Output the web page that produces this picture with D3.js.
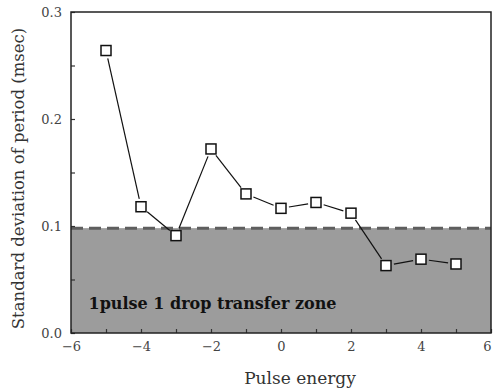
<!DOCTYPE html>
<html>
<head>
<meta charset="utf-8" />
<title>Standard deviation of period vs pulse energy</title>
<style>
html, body {
  margin: 0;
  background: #fff;
}
</style>
</head>
<body>
<script src="https://d3js.org/d3.v7.min.js"></script>
<script>
// data
const energy = [-5, -4, -3, -2, -1, 0, 1, 2, 3, 4, 5]
const stdDev = [0.264, 0.118, 0.091, 0.172, 0.130, 0.1165, 0.122, 0.112, 0.063, 0.069, 0.0645]
const zoneLimit = 0.098
const xTicks = [-6, -4, -2, 0, 2, 4, 6]
const yTicks = [0.0, 0.1, 0.2, 0.3]
const zoneLabel = '1pulse 1 drop transfer zone'

const serif = '"DejaVu Serif", "Liberation Serif", serif'
const w = 494, h = 391
const m = {left: 71, top: 12, right: 3, bottom: 58}

const svg = d3.select('body').append('svg')
  .attr('width', w)
  .attr('height', h)
  .attr('font-family', serif)

const x = d3.scaleLinear().domain([-6, 6]).range([m.left, w - m.right])
const y = d3.scaleLinear().domain([0, 0.3]).range([h - m.bottom, m.top])

// shaded zone
svg.append('rect')
  .attr('x', x(-6))
  .attr('y', y(zoneLimit))
  .attr('width', x(6) - x(-6))
  .attr('height', y(0) - y(zoneLimit))
  .attr('fill', '#9c9c9c')

svg.append('line')
  .attr('x1', x(-6)).attr('x2', x(6))
  .attr('y1', y(zoneLimit)).attr('y2', y(zoneLimit))
  .attr('stroke', '#5e5e5e')
  .attr('stroke-width', 3)
  .attr('stroke-dasharray', '12,6')

svg.append('text')
  .attr('x', x(-5.5))
  .attr('y', y(0.022))
  .attr('font-family', serif)
  .attr('font-size', 16)
  .attr('font-weight', 'bold')
  .attr('fill', '#111')
  .text(zoneLabel)

// axes, ticks inside
const xAxis = d3.axisBottom(x).tickValues(d3.range(-6, 7, 1)).tickSize(-4).tickPadding(9)
  .tickFormat(d => xTicks.includes(d) ? d3.format('')(d).replace('-', '\u2212') : '')
const yAxis = d3.axisLeft(y).tickValues(d3.range(0, 0.31, 0.05)).tickSize(-4).tickPadding(9)
  .tickFormat(d => yTicks.some(t => Math.abs(t - d) < 1e-9) ? d3.format('.1f')(d) : '')

const gx = svg.append('g').attr('transform', `translate(0,${y(0)})`).call(xAxis)
const gy = svg.append('g').attr('transform', `translate(${x(-6)},0)`).call(yAxis)
;[gx, gy].forEach(g => {
  g.attr('font-family', serif)
  g.select('.domain').remove()
  g.selectAll('line').attr('stroke', '#333').attr('stroke-width', 1.2)
  g.selectAll('text').attr('font-size', 13).attr('fill', '#444')
})
// keep the last x label inside the frame edge
gx.selectAll('.tick').filter(d => d === 6).select('text')
  .attr('text-anchor', 'end').attr('dx', 0)

// frame
svg.append('rect')
  .attr('x', x(-6)).attr('y', y(0.3))
  .attr('width', x(6) - x(-6)).attr('height', y(0) - y(0.3))
  .attr('fill', 'none')
  .attr('stroke', '#222')
  .attr('stroke-width', 1.5)

// connecting segments with a small gap at each marker
const pts = energy.map((e, i) => [x(e), y(stdDev[i])])
const gap = 8
for (let i = 0; i < pts.length - 1; i++) {
  const [x1, y1] = pts[i], [x2, y2] = pts[i + 1]
  const len = Math.hypot(x2 - x1, y2 - y1)
  const ux = (x2 - x1) / len, uy = (y2 - y1) / len
  svg.append('line')
    .attr('x1', x1 + ux * gap).attr('y1', y1 + uy * gap)
    .attr('x2', x2 - ux * gap).attr('y2', y2 - uy * gap)
    .attr('stroke', '#111')
    .attr('stroke-width', 1.2)
}

svg.selectAll('rect.mk')
  .data(pts)
  .enter().append('rect')
  .attr('class', 'mk')
  .attr('x', d => d[0] - 5)
  .attr('y', d => d[1] - 5)
  .attr('width', 10)
  .attr('height', 10)
  .attr('fill', '#fff')
  .attr('stroke', '#111')
  .attr('stroke-width', 1.5)

// axis titles
svg.append('text')
  .attr('x', 300)
  .attr('y', 384)
  .attr('text-anchor', 'middle')
  .attr('font-size', 17)
  .attr('fill', '#333')
  .text('Pulse energy')

svg.append('text')
  .attr('transform', `translate(24,${(y(0) + y(0.3)) / 2 + 6}) rotate(-90)`)
  .attr('text-anchor', 'middle')
  .attr('font-size', 16.5)
  .attr('fill', '#333')
  .text('Standard deviation of period (msec)')
</script>
</body>
</html>
